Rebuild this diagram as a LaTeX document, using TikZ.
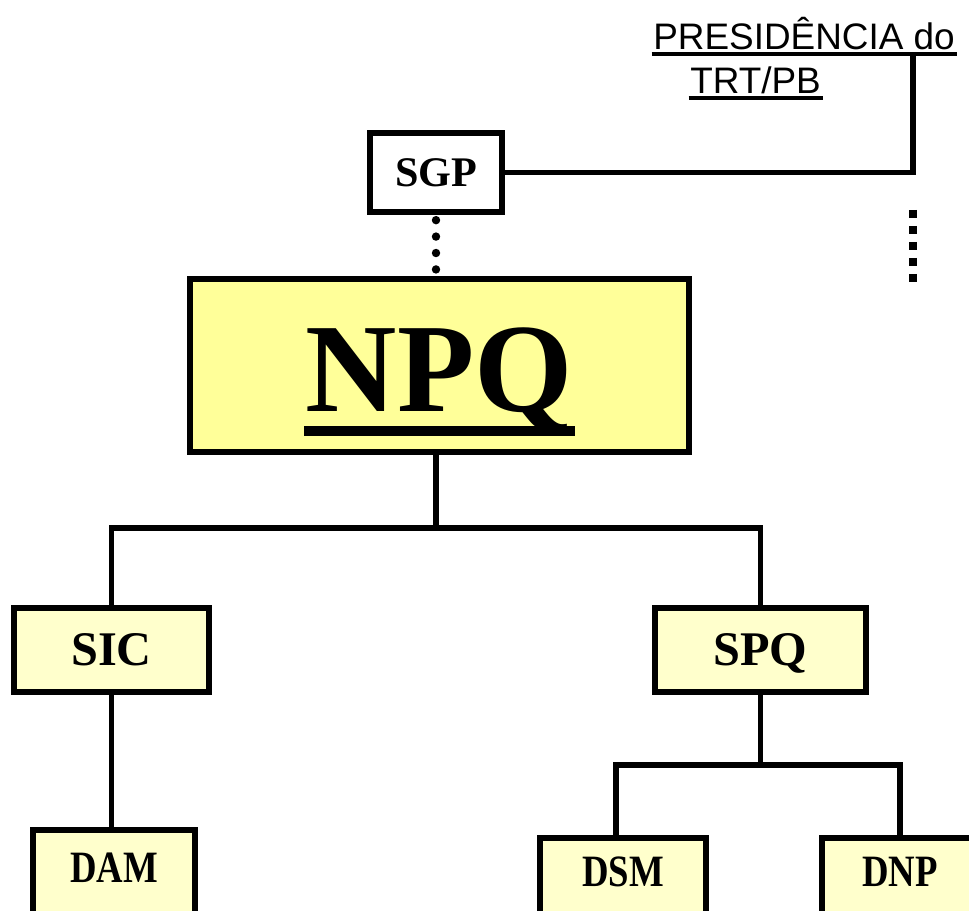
\documentclass[tikz,border=0pt]{standalone}
\usepackage{fontspec}
\setmainfont{Liberation Serif}
\newfontfamily\arialfont{Liberation Sans}
\newfontfamily\narrowfont[FakeStretch=0.82]{Liberation Serif}
\usetikzlibrary{positioning,calc}
\definecolor{npqyellow}{RGB}{255,255,153}
\definecolor{paleyellow}{RGB}{255,255,204}
\newcommand{\barunder}[3]{\setbox0\hbox{#3}\rlap{\kern-1pt\rule[#1]{\dimexpr\wd0+2pt\relax}{#2}}\box0}

\begin{document}
\begin{tikzpicture}[
    x=0.02cm, y=-0.02cm,
    unit/.style={rectangle, draw=black, line width=3.3pt, fill=paleyellow, inner sep=0pt, font=\bfseries\fontsize{27.5}{30}\selectfont, text height=18.2pt, text depth=0pt},
    head/.style={unit, fill=white, minimum width=2.64cm, minimum height=1.58cm, font=\bfseries\fontsize{24}{28}\selectfont, text height=16pt},
    core/.style={unit, fill=npqyellow, line width=3.5pt, minimum width=9.98cm, minimum height=3.46cm, font=\bfseries\fontsize{72}{80}\selectfont, text height=62pt, text depth=9.4pt},
    leaf/.style={unit, minimum height=1.8cm, font=\narrowfont\bfseries\fontsize{25.5}{28}\selectfont, text height=12pt, text depth=4pt},
    link/.style={line width=3.1pt},
    rounddots/.style={line width=4.8pt, line cap=round, dash pattern=on 0pt off 9.35pt, dash phase=6.35pt},
    squaredots/.style={line width=4.5pt, dash pattern=on 4.5pt off 4.6pt},
    pres/.style={inner sep=0pt, align=left, font=\arialfont\fontsize{21}{25}\selectfont}
]
    \useasboundingbox (0,0) rectangle (969,911);
    \clip (0,0) rectangle (969,911);

    \node[pres, anchor=north west] (presid) at (653,17) {\barunder{-3.6pt}{2.3pt}{PRESIDÊNCIA do}\\\hspace*{21pt}\barunder{-3.6pt}{2.3pt}{TRT/PB}};

    \node[head] (sgp) at (436,172.5) {SGP};
    \node[core] (npq) at (439.5,365.5) {\barunder{-14.1pt}{6.2pt}{NPQ}};
    \node[unit, minimum width=3.9cm, minimum height=1.68cm] (sic) at (111.5,650) {SIC};
    \node[unit, minimum width=4.22cm, minimum height=1.68cm] (spq) at (760.5,650) {SPQ};
    \node[leaf, minimum width=3.24cm] (dam) at (114,875) {DAM};
    \node[leaf, minimum width=3.32cm, minimum height=1.64cm] (dsm) at (623,879) {DSM};
    \node[leaf, minimum width=3.12cm, minimum height=1.64cm] (dnp) at (900,879) {DNP};

    \coordinate (prestop) at (913,54);
    \coordinate (dotstop) at (913,210);
    \coordinate (dotsend) at (913,282);
    \coordinate (npqfork) at (436,528);
    \coordinate (spqfork) at (760.5,765);

    % ligacao com a presidencia
    \draw[link] (sgp.east) -| (prestop);
    \draw[squaredots] (dotstop) -- (dotsend);
    \draw[rounddots] (sgp.south) -- (sgp.south |- npq.north);

    % organograma
    \draw[link] (npq.south -| npqfork) -- (npqfork);
    \draw[link] (sic.north) |- (npqfork) -| (spq.north);
    \draw[link] (sic.south) -- (sic.south |- dam.north);
    \draw[link] (spq.south) -- (spqfork);
    \draw[link] ($(dsm.north)+(-7,0)$) |- (spqfork) -| (dnp.north);
\end{tikzpicture}
\end{document}
